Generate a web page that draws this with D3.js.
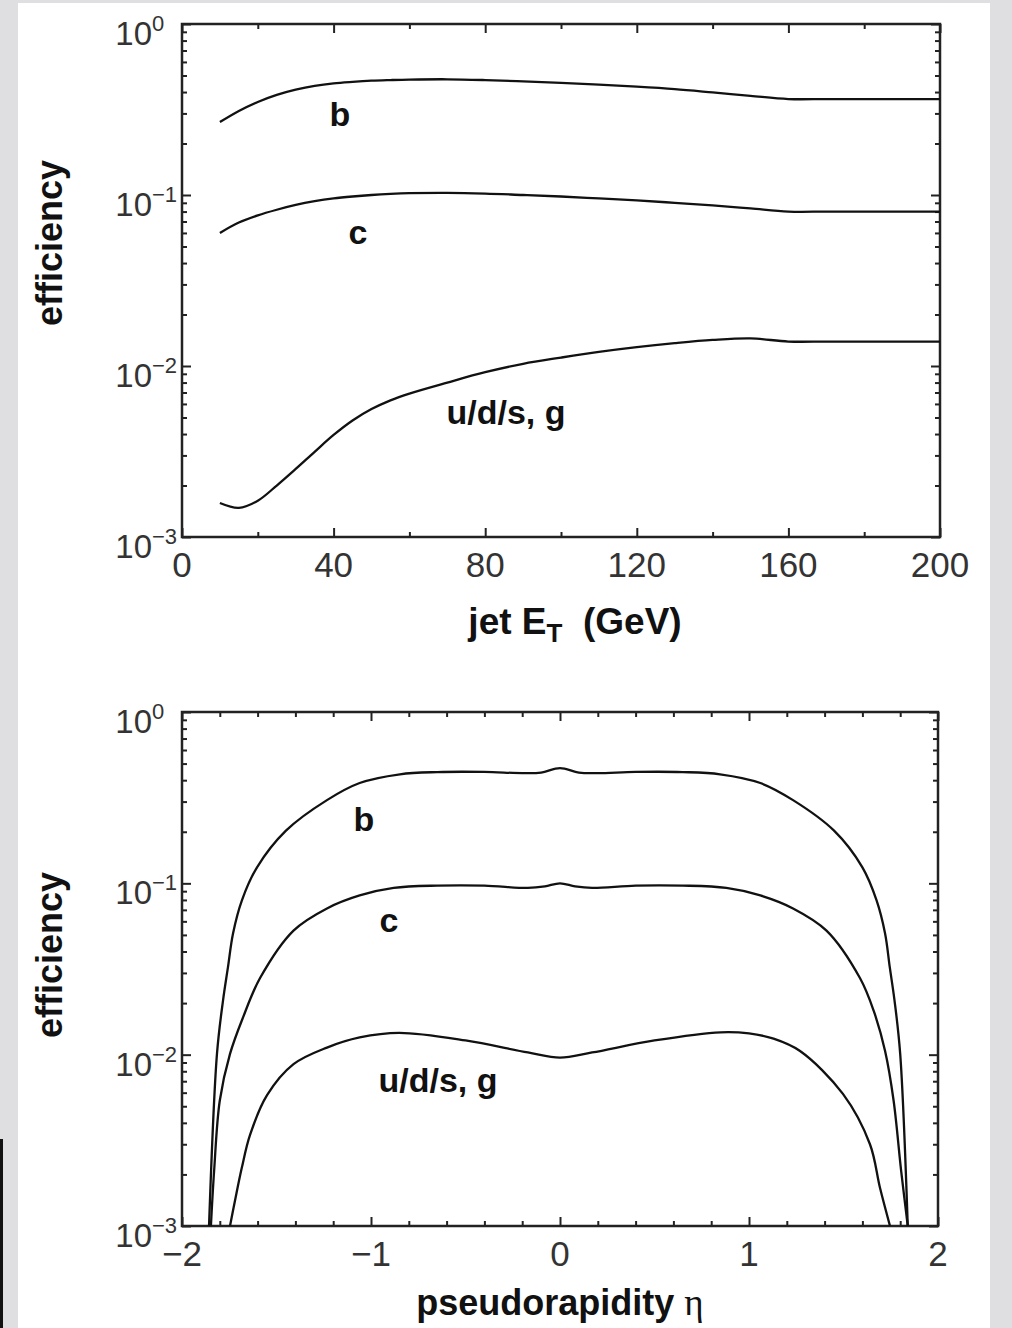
<!DOCTYPE html>
<html><head><meta charset="utf-8">
<script src="https://cdn.jsdelivr.net/npm/d3@7"></script>
<style>
html,body{margin:0;padding:0;background:#dfdfe2;}
svg{display:block;}
</style></head><body>
<svg id="chart" width="1012" height="1328"></svg>
<script>
// ---------- data ----------
const etTicks = [0, 40, 80, 120, 160, 200];
const etMinorTicks = [20, 60, 100, 140, 180];
const etaTicks = [-2, -1, 0, 1, 2];
const etaMinorTicks = [-1.8,-1.6,-1.4,-1.2,-0.8,-0.6,-0.4,-0.2,0.2,0.4,0.6,0.8,1.2,1.4,1.6,1.8];
const decadeTicks = [1, 0.1, 0.01, 0.001];
const decadeExponents = ["0", "\u22121", "\u22122", "\u22123"];

// top panel: efficiency vs jet ET (GeV)
const jetEt   = [10, 15, 20, 25, 30, 35, 40, 45, 50, 55, 60, 70, 80, 90, 100, 110, 120, 130, 140, 150, 160, 170, 180, 190, 200];
const effB_Et = [0.267,0.31,0.35,0.385,0.413,0.435,0.450,0.459,0.466,0.470,0.473,0.475,0.470,0.462,0.453,0.442,0.430,0.416,0.398,0.380,0.364,0.364,0.364,0.364,0.364];
const effC_Et = [0.060,0.069,0.076,0.082,0.0875,0.092,0.0955,0.098,0.100,0.1015,0.1025,0.103,0.102,0.100,0.098,0.0955,0.093,0.090,0.087,0.0835,0.080,0.080,0.080,0.080,0.080];
const effL_Et = [0.00158,0.00148,0.00163,0.0020,0.0025,0.00315,0.00395,0.0048,0.0056,0.0063,0.0069,0.0080,0.0092,0.0103,0.0112,0.0121,0.0129,0.0136,0.0142,0.0145,0.0139,0.0139,0.0139,0.0139,0.0139];

// bottom panel: efficiency vs pseudorapidity
const etaB = [-1.857,-1.815,-1.783,-1.757,-1.73,-1.683,-1.603,-1.45,-1.233,-1.06,-0.847,-0.65,-0.4,-0.2,-0.1,0,0.1,0.2,0.4,0.65,0.847,1.06,1.233,1.45,1.60,1.675,1.72,1.745,1.77,1.80,1.84];
const effB_Eta = [0.001,0.0101,0.0207,0.0323,0.051,0.0796,0.124,0.203,0.306,0.385,0.433,0.446,0.447,0.440,0.443,0.470,0.443,0.440,0.447,0.446,0.433,0.385,0.306,0.203,0.124,0.0796,0.051,0.0323,0.0207,0.0101,0.001];
const etaC = [-1.847,-1.83,-1.80,-1.746,-1.677,-1.587,-1.41,-1.233,-1.06,-0.88,-0.65,-0.4,-0.17,-0.08,0,0.08,0.17,0.4,0.65,0.88,1.06,1.233,1.41,1.587,1.66,1.72,1.765,1.805,1.84];
const effC_Eta = [0.001,0.0021,0.0054,0.0101,0.0165,0.028,0.053,0.0714,0.085,0.094,0.097,0.097,0.094,0.096,0.100,0.096,0.094,0.097,0.097,0.094,0.085,0.0714,0.053,0.028,0.018,0.0105,0.0054,0.0021,0.001];
const etaL = [-1.746,-1.72,-1.683,-1.64,-1.55,-1.41,-1.233,-1.06,-0.85,-0.5,-0.17,0,0.17,0.5,0.85,1.0,1.13,1.27,1.497,1.64,1.693,1.746];
const effL_Eta = [0.001,0.0014,0.0022,0.0034,0.0058,0.0088,0.0110,0.0126,0.0134,0.0121,0.0103,0.0096,0.0103,0.0121,0.0135,0.0133,0.0124,0.0105,0.0059,0.0030,0.00167,0.001];

const curveLabels = ["b", "c", "u/d/s, g"];

// ---------- drawing ----------
const svg = d3.select("#chart");
svg.append("rect").attr("width",1012).attr("height",1328).attr("fill","#dfdfe2");
svg.append("rect").attr("x",18).attr("y",3).attr("width",972).attr("height",1325).attr("fill","#ffffff");
svg.append("rect").attr("x",0).attr("y",1139).attr("width",3).attr("height",189).attr("fill","#111");

const SANS = "'Liberation Sans', Arial, Helvetica, sans-serif";
const minorLog = [];
[0.001, 0.01, 0.1].forEach(d => { for (let k = 2; k <= 9; k++) minorLog.push(+(k*d).toPrecision(3)); });

function panel(cfg, idx) {
  const x = d3.scaleLinear().domain(cfg.xDomain).range([cfg.left, cfg.right]);
  const y = d3.scaleLog().domain([0.001, 1]).range([cfg.bottom, cfg.top]);
  const g = svg.append("g");
  const clipId = "clip" + idx;
  g.append("clipPath").attr("id", clipId).append("rect")
    .attr("x", cfg.left).attr("y", cfg.top).attr("width", cfg.right - cfg.left).attr("height", cfg.bottom - cfg.top);

  const tickStyle = sel => { sel.select(".domain").remove(); sel.selectAll("line").attr("stroke","#222").attr("stroke-width",2); sel.selectAll("text").remove(); };
  const H = cfg.bottom - cfg.top, W = cfg.right - cfg.left;
  g.append("g").attr("transform",`translate(0,${cfg.bottom})`).call(d3.axisBottom(x).tickValues(cfg.xMajor).tickSize(-9)).call(tickStyle);
  g.append("g").attr("transform",`translate(0,${cfg.bottom})`).call(d3.axisBottom(x).tickValues(cfg.xMinor).tickSize(-5)).call(tickStyle);
  g.append("g").attr("transform",`translate(0,${cfg.top})`).call(d3.axisTop(x).tickValues(cfg.xMajor).tickSize(-9)).call(tickStyle);
  g.append("g").attr("transform",`translate(0,${cfg.top})`).call(d3.axisTop(x).tickValues(cfg.xMinor).tickSize(-5)).call(tickStyle);
  g.append("g").attr("transform",`translate(${cfg.left},0)`).call(d3.axisLeft(y).tickValues(decadeTicks).tickSize(-9)).call(tickStyle);
  g.append("g").attr("transform",`translate(${cfg.left},0)`).call(d3.axisLeft(y).tickValues(minorLog).tickSize(-5)).call(tickStyle);
  g.append("g").attr("transform",`translate(${cfg.right},0)`).call(d3.axisRight(y).tickValues(decadeTicks).tickSize(-9)).call(tickStyle);
  g.append("g").attr("transform",`translate(${cfg.right},0)`).call(d3.axisRight(y).tickValues(minorLog).tickSize(-5)).call(tickStyle);

  g.append("rect").attr("x",cfg.left).attr("y",cfg.top).attr("width",W).attr("height",H)
    .attr("fill","none").attr("stroke","#222").attr("stroke-width",2.5);

  const line = d3.line().x(d => x(d[0])).y(d => y(d[1])).curve(d3.curveCatmullRom.alpha(0.5));
  cfg.series.forEach(s => {
    g.append("path").attr("clip-path",`url(#${clipId})`)
      .attr("d", line(s.xs.map((v,i) => [v, s.ys[i]])))
      .attr("fill","none").attr("stroke","#111").attr("stroke-width",2.3);
  });

  cfg.xMajor.forEach(v => {
    g.append("text").attr("x", x(v)).attr("y", cfg.bottom + 40)
      .attr("text-anchor","middle").attr("font-family",SANS).attr("font-size",35).attr("fill","#333")
      .text(v < 0 ? "\u2212" + Math.abs(v) : String(v));
  });
  decadeTicks.forEach((v,i) => {
    const ty = y(v);
    g.append("text").attr("x",152).attr("y",ty+21).attr("text-anchor","end")
      .attr("font-family",SANS).attr("font-size",33).attr("fill","#333").text("10");
    g.append("text").attr("x",152).attr("y",ty+7).attr("text-anchor","start")
      .attr("font-family",SANS).attr("font-size",22).attr("fill","#333").text(decadeExponents[i]);
  });

  g.append("text").attr("transform",`translate(62,${cfg.yTitleY}) rotate(-90)`)
    .attr("text-anchor","middle").attr("font-family",SANS).attr("font-weight","bold")
    .attr("font-size",36).attr("fill","#111").text("efficiency");

  cfg.labelPos.forEach((p,i) => {
    g.append("text").attr("x",p[0]).attr("y",p[1]).attr("text-anchor","middle")
      .attr("font-family",SANS).attr("font-weight","bold").attr("font-size",34).attr("fill","#111")
      .text(curveLabels[i]);
  });
  return g;
}

const gTop = panel({
  left:182, right:940, top:24, bottom:537,
  xDomain:[0,200], xMajor:etTicks, xMinor:etMinorTicks,
  series:[{xs:jetEt, ys:effB_Et},{xs:jetEt, ys:effC_Et},{xs:jetEt, ys:effL_Et}],
  labelPos:[[340,126],[358,244],[506,424]],
  yTitleY:243
}, 0);
const tTop = gTop.append("text").attr("x",575).attr("y",634).attr("text-anchor","middle")
  .attr("font-family",SANS).attr("font-weight","bold").attr("font-size",37).attr("fill","#111");
tTop.append("tspan").text("jet E");
tTop.append("tspan").attr("font-size",26).attr("dy",8).text("T");
tTop.append("tspan").attr("dy",-8).text("\u00a0 (GeV)");

const gBot = panel({
  left:182, right:938, top:712, bottom:1226,
  xDomain:[-2,2], xMajor:etaTicks, xMinor:etaMinorTicks,
  series:[{xs:etaB, ys:effB_Eta},{xs:etaC, ys:effC_Eta},{xs:etaL, ys:effL_Eta}],
  labelPos:[[364,831],[389,932],[438,1092]],
  yTitleY:955
}, 1);
const tBot = gBot.append("text").attr("x",560).attr("y",1315).attr("text-anchor","middle")
  .attr("font-family",SANS).attr("font-weight","bold").attr("font-size",36).attr("fill","#111");
tBot.append("tspan").text("pseudorapidity ");
tBot.append("tspan").attr("font-family","'Liberation Serif', 'DejaVu Serif', serif").attr("font-weight","normal").attr("font-size",37).text("\u03b7");
</script>
</body></html>
